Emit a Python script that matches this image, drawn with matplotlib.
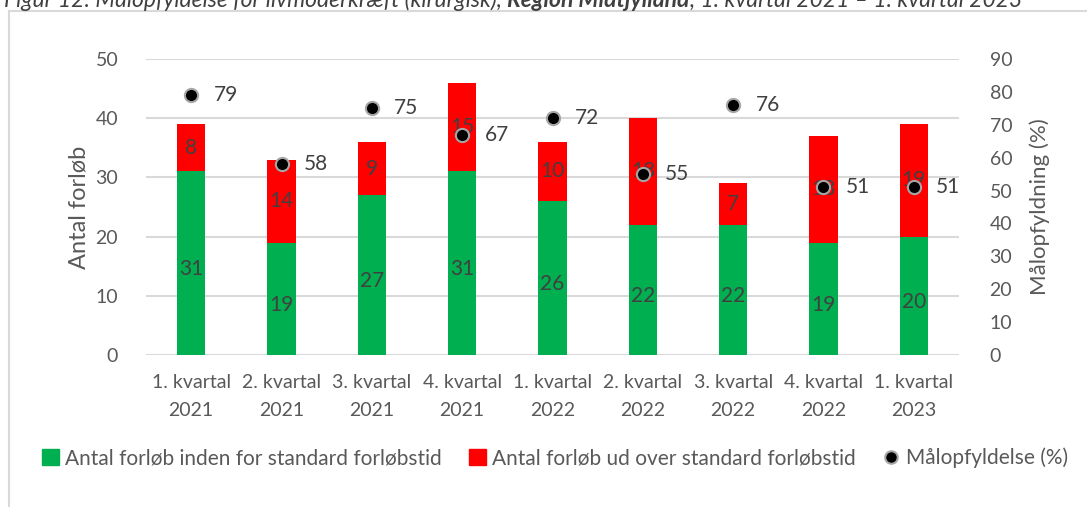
import numpy as np
import matplotlib
matplotlib.use('Agg')
import matplotlib.pyplot as plt
from matplotlib.patches import Rectangle
from matplotlib.lines import Line2D

plt.rcParams['font.family'] = ['Lato', 'DejaVu Sans']

quarters = ['1. kvartal\n2021', '2. kvartal\n2021', '3. kvartal\n2021', '4. kvartal\n2021',
            '1. kvartal\n2022', '2. kvartal\n2022', '3. kvartal\n2022', '4. kvartal\n2022',
            '1. kvartal\n2023']
inden = [31, 19, 27, 31, 26, 22, 22, 19, 20]
udover = [8, 14, 9, 15, 10, 18, 7, 18, 19]
maal = [79, 58, 75, 67, 72, 55, 76, 51, 51]

green = '#00B050'
red = '#FF0000'
txt = '#595959'
grid = '#D9D9D9'

W, H = 1087, 507
fig = plt.figure(figsize=(W / 100, H / 100), dpi=100)

# plot area in pixels
left, right, top, bottom = 146, 959, 59, 355
ax = fig.add_axes([left / W, 1 - bottom / H, (right - left) / W, (bottom - top) / H])
ax2 = ax.twinx()

x = np.arange(len(quarters))
bw = 0.31
ax.bar(x, inden, bw, color=green, zorder=2)
ax.bar(x, udover, bw, bottom=inden, color=red, zorder=2)

for i in range(len(x)):
    ax.text(x[i], inden[i] / 2 - 1, str(inden[i]), ha='center', va='center', fontsize=15, color='#404040', zorder=3)
    ax.text(x[i], inden[i] + udover[i] / 2, str(udover[i]), ha='center', va='center', fontsize=15, color='#404040', zorder=3)

ax.set_ylim(0, 50)
ax.set_yticks(range(0, 51, 10))
ax.set_xlim(-0.5, len(x) - 0.5)
ax.set_xticks(x)
ax.set_xticklabels(quarters, fontsize=14, color=txt, linespacing=1.75)
ax.yaxis.grid(True, color=grid, linewidth=1.5, zorder=0)
ax.set_axisbelow(True)
ax.tick_params(axis='both', length=0, labelsize=14, labelcolor=txt)
ax.tick_params(axis='x', pad=14)
ax.tick_params(axis='y', pad=20)
for s in ax.spines.values():
    s.set_visible(False)
ax.set_ylabel('Antal forløb', fontsize=17, color=txt, labelpad=4)

ax2.plot(x, maal, 'o', color='black', markeredgecolor='#A6A6A6', markeredgewidth=1.5,
         markersize=9.5, zorder=4)
for i in range(len(x)):
    ax2.annotate(str(maal[i]), (x[i], maal[i]), xytext=(16, 0), textcoords='offset points',
                 ha='left', va='center', fontsize=15, color='#404040')
ax2.set_ylim(0, 90)
ax2.set_yticks(range(0, 91, 10))
ax2.tick_params(axis='y', length=0, labelsize=14, labelcolor=txt, pad=22)
for s in ax2.spines.values():
    s.set_visible(False)
ax2.set_ylabel('Målopfyldning (%)', fontsize=16, color=txt, labelpad=12)

handles = [Rectangle((0, 0), 1, 1, color=green), Rectangle((0, 0), 1, 1, color=red),
           Line2D([], [], marker='o', linestyle='none', color='black', markeredgecolor='#A6A6A6',
                  markeredgewidth=1.5, markersize=9)]
labels = ['Antal forløb inden for standard forløbstid', 'Antal forløb ud over standard forløbstid',
          'Målopfyldelse (%)']
fig.legend(handles, labels, loc='center', bbox_to_anchor=(555 / W, 1 - 458 / H), ncol=3,
           frameon=False, fontsize=15, labelcolor=txt, handlelength=0.8, handleheight=0.8,
           handletextpad=0.3, columnspacing=1.3)

# outer chart frame
fig.patches.append(Rectangle((9 / W, -0.1), 1.2, 1 - 11 / H + 0.1, transform=fig.transFigure,
                             fill=False, edgecolor=grid, linewidth=1.5))

# caption above the chart, clipped at the top edge as in the source
parts = [('Figur 12: Målopfyldelse for livmoderkræft (kirurgisk), ', 'normal'),
         ('Region Midtjylland', 'bold'),
         (', 1. kvartal 2021 – 1. kvartal 2023', 'normal')]
fig.canvas.draw()
r = fig.canvas.get_renderer()
xp = 4
for s, w in parts:
    t = fig.text(xp / W, 1 - 7 / H, s, fontsize=16.5, style='italic', weight=w, color='#404040',
                 ha='left', va='baseline')
    xp += t.get_window_extent(r).width

fig.savefig('out.png', dpi=100)
